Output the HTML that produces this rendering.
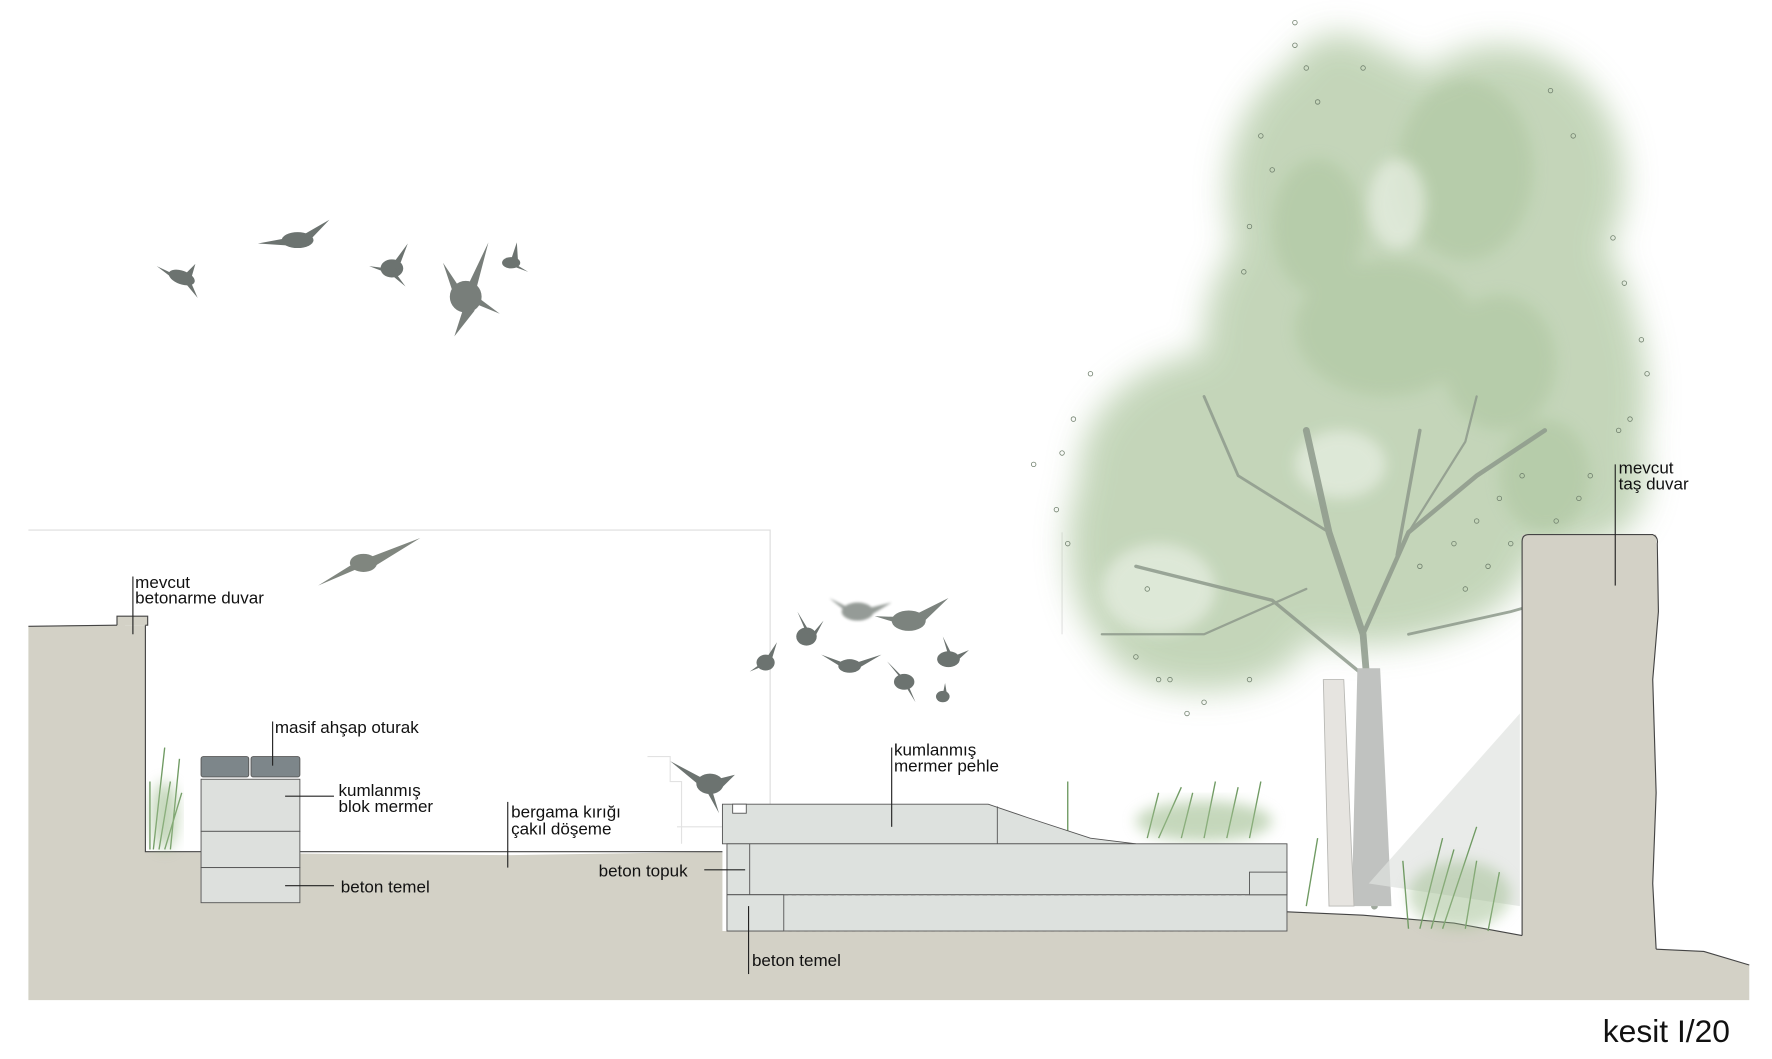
<!DOCTYPE html>
<html><head><meta charset="utf-8"><style>
html,body{margin:0;padding:0;background:#fff;}
svg{display:block;}
text{font-family:"Liberation Sans",sans-serif;fill:#111;}
</style></head><body>
<svg width="1772" height="1059" viewBox="0 0 1560 935" preserveAspectRatio="none" xmlns="http://www.w3.org/2000/svg">
<defs>
<filter id="b6" x="-20%" y="-20%" width="140%" height="140%"><feGaussianBlur stdDeviation="6"/></filter>
<filter id="b14" x="-30%" y="-30%" width="160%" height="160%"><feGaussianBlur stdDeviation="14"/></filter>
<filter id="b2"><feGaussianBlur stdDeviation="1.2"/></filter>
</defs>

<path d="M25 468 H678 V712" fill="none" stroke="#ddd" stroke-width="1"/>
<path d="M935 470 V560" fill="none" stroke="#e2e2e2" stroke-width="1"/>
<path d="M570 668 H590 V690 H600 V745 M596 730 H636" fill="none" stroke="#e2e2e2"/>

<!-- tree canopy -->
<g opacity="0.88">
<g filter="url(#b14)" fill="#bcd0b0">
<ellipse cx="1190" cy="170" rx="110" ry="130"/>
<ellipse cx="1320" cy="160" rx="110" ry="120"/>
<ellipse cx="1250" cy="300" rx="190" ry="160"/>
<ellipse cx="1080" cy="420" rx="130" ry="110"/>
<ellipse cx="1000" cy="480" rx="60" ry="100"/>
<ellipse cx="1370" cy="350" rx="80" ry="140"/>
<ellipse cx="1200" cy="480" rx="150" ry="90"/>
<ellipse cx="1060" cy="560" rx="90" ry="50"/>
<ellipse cx="1180" cy="80" rx="50" ry="50"/>
<ellipse cx="1400" cy="420" rx="50" ry="60"/>
</g>
<g filter="url(#b6)" fill="#a8c299" opacity="0.7">
<ellipse cx="1290" cy="150" rx="60" ry="80"/>
<ellipse cx="1220" cy="290" rx="80" ry="60"/>
<ellipse cx="1320" cy="320" rx="50" ry="60"/>
<ellipse cx="1160" cy="200" rx="40" ry="60"/>
<ellipse cx="1360" cy="420" rx="40" ry="50"/>
</g>
<g filter="url(#b6)" fill="#e6eee1" opacity="0.7">
<ellipse cx="1180" cy="410" rx="40" ry="30"/>
<ellipse cx="1230" cy="180" rx="25" ry="40"/>
<ellipse cx="1020" cy="520" rx="50" ry="40"/>
</g>
</g>
<g fill="none" stroke="#6f7f6c" stroke-width="0.7">
<circle cx="1140" cy="40" r="2"/><circle cx="1150" cy="60" r="2"/><circle cx="1110" cy="120" r="2"/><circle cx="1120" cy="150" r="2"/><circle cx="1100" cy="200" r="2"/><circle cx="1095" cy="240" r="2"/><circle cx="1420" cy="210" r="2"/><circle cx="1430" cy="250" r="2"/><circle cx="1445" cy="300" r="2"/><circle cx="1450" cy="330" r="2"/><circle cx="1435" cy="370" r="2"/><circle cx="1425" cy="380" r="2"/><circle cx="1400" cy="420" r="2"/><circle cx="1390" cy="440" r="2"/><circle cx="960" cy="330" r="2"/><circle cx="945" cy="370" r="2"/><circle cx="935" cy="400" r="2"/><circle cx="910" cy="410" r="2"/><circle cx="930" cy="450" r="2"/><circle cx="940" cy="480" r="2"/><circle cx="1000" cy="580" r="2"/><circle cx="1030" cy="600" r="2"/><circle cx="1060" cy="620" r="2"/><circle cx="1100" cy="600" r="2"/><circle cx="1300" cy="460" r="2"/><circle cx="1320" cy="440" r="2"/><circle cx="1340" cy="420" r="2"/><circle cx="1160" cy="90" r="2"/><circle cx="1200" cy="60" r="2"/><circle cx="1250" cy="500" r="2"/><circle cx="1280" cy="480" r="2"/><circle cx="1010" cy="520" r="2"/><circle cx="1140" cy="20" r="2"/><circle cx="1365" cy="80" r="2"/><circle cx="1385" cy="120" r="2"/>
<circle cx="1310" cy="500" r="2"/><circle cx="1330" cy="480" r="2"/><circle cx="1290" cy="520" r="2"/><circle cx="1370" cy="460" r="2"/><circle cx="1020" cy="600" r="2"/><circle cx="1045" cy="630" r="2"/>
</g>

<g stroke="#8e9a8c" stroke-linecap="round" fill="none" opacity="0.85">
<path d="M1210 800 L1205 620 L1200 560 L1170 470 L1150 380" stroke-width="6"/>
<path d="M1200 560 L1240 470 L1300 420 L1360 380" stroke-width="4"/>
<path d="M1205 600 L1120 530 L1000 500" stroke-width="3"/>
<path d="M1230 490 L1250 380" stroke-width="3"/>
<path d="M1170 470 L1090 420 L1060 350" stroke-width="2.5"/>
<path d="M1240 560 L1330 540 L1400 520" stroke-width="2.5"/>
<path d="M1150 520 L1060 560 L970 560" stroke-width="2"/>
<path d="M1240 470 L1290 390 L1300 350" stroke-width="2"/>
</g>
<path d="M1195 590 L1215 590 L1225 800 L1190 800 Z" fill="#c0c2c0"/>
<path d="M1165 600 L1183 600 L1192 800 L1170 800 Z" fill="#e6e4e0" stroke="#b9b9b5" stroke-width="0.8"/>
<path d="M1338 630 L1205 780 L1338 800 Z" fill="#dfe3df" opacity="0.7"/>

<path d="M25 553 L60 552 L103 552 L103 544 L110 544 L110 552 L128 552 L128 752 L300 754 L450 755 L636 752 L636 822 L1133 822 L1133 805 L1200 808 L1280 815 L1340 826 L1340 472 L1458 472 L1460 540 L1455 600 L1458 700 L1455 780 L1458 838 L1500 840 L1540 852 L1540 883 L25 883 Z" fill="#d3d1c6"/>
<path d="M25 553 L103 552 M128 552 V752 L636 752 M1133 805 L1200 808 L1280 815 L1340 826 M1458 838 L1500 840 L1540 852" fill="none" stroke="#444" stroke-width="1"/>
<path d="M103 552 V544 H130 V552 H128" fill="#d3d1c6" stroke="#444" stroke-width="1"/>
<path d="M1340 826 V478 Q1340 472 1346 472 L1455 472 Q1460 474 1459 480 L1460 540 L1455 600 L1458 700 L1455 780 L1458 838" fill="none" stroke="#444" stroke-width="1"/>

<g stroke="#6f9a62" stroke-width="1.2" fill="none">
<path d="M135 750 L145 660 M140 750 L150 690 M145 750 L160 700 M132 750 L132 690 M150 750 L158 670"/>
<path d="M1150 800 L1160 740 M1250 820 L1270 740 M1260 820 L1280 750 M1270 820 L1300 730 M1290 820 L1300 760 M1310 822 L1320 770 M1240 820 L1235 760"/>
<path d="M1010 740 L1020 700 M1020 740 L1040 695 M1040 740 L1050 700 M1060 740 L1070 690 M1080 740 L1090 695 M1100 740 L1110 690 M940 740 L940 690"/>
</g>
<ellipse cx="1060" cy="725" rx="60" ry="18" fill="#9fbd8f" opacity="0.6" filter="url(#b6)"/>
<ellipse cx="1285" cy="790" rx="45" ry="30" fill="#9fbd8f" opacity="0.5" filter="url(#b6)"/>
<ellipse cx="145" cy="720" rx="12" ry="30" fill="#9fbd8f" opacity="0.6" filter="url(#b6)"/>

<g stroke="#555" stroke-width="0.8">
<rect x="177" y="668" width="42" height="18" rx="2" fill="#7d868a"/>
<rect x="221" y="668" width="43" height="18" rx="2" fill="#7d868a"/>
<rect x="177" y="688" width="87" height="46" fill="#dde0dd"/>
<rect x="177" y="734" width="87" height="32" fill="#dde0dd"/>
<rect x="177" y="766" width="87" height="31" fill="#dde0dd"/>
</g>

<g stroke="#555" stroke-width="0.8" fill="#dde1de">
<path d="M636 710 H870 L905 722 L960 740 L1000 745 H636 Z"/>
<rect x="640" y="745" width="493" height="45"/>
<rect x="640" y="790" width="493" height="32"/>
<rect x="640" y="790" width="50" height="32"/>
<rect x="1100" y="770" width="33" height="20"/>
<line x1="660" y1="745" x2="660" y2="790"/>
<line x1="878" y1="712" x2="878" y2="745"/>
<rect x="645" y="710" width="12" height="8" fill="#fff"/>
</g>
<line x1="690" y1="790" x2="1100" y2="790" stroke="#666" stroke-dasharray="4 3" stroke-width="0.8"/>
<line x1="690" y1="822" x2="1100" y2="822" stroke="#666" stroke-dasharray="4 3" stroke-width="0.8"/>

<g fill="#6c7370">
<g transform="translate(160,245)"><ellipse rx="12" ry="6" transform="rotate(20)"/><path d="M-5 -2 L-22 -10 L-5 3Z M3 -3 L12 -12 L8 2Z"/><path d="M8 4 L14 18 L4 6Z"/></g>
<g transform="translate(262,212)"><ellipse rx="14" ry="7"/><path d="M-3 -3 L-35 3 L-5 5Z M2 -3 L28 -18 L8 3Z"/></g>
<g transform="translate(345,237)"><ellipse rx="10" ry="8"/><path d="M0 -3 L14 -22 L5 2Z M-4 0 L-20 -2 L-4 4Z M4 5 L12 16 L0 6Z"/></g>
<g transform="translate(410,262)" fill="#787e7a"><ellipse rx="14" ry="14"/><path d="M0 -6 L20 -48 L8 -2Z M-4 -6 L-20 -30 L-10 0Z M-2 10 L-10 35 L8 12Z M8 6 L30 15 L10 0Z"/></g>
<g transform="translate(450,232)"><ellipse rx="8" ry="5"/><path d="M0 -3 L5 -18 L6 -2Z M5 2 L15 8 L4 4Z"/></g>
<g transform="translate(320,497)" fill="#80867f"><ellipse rx="12" ry="8"/><path d="M-3 -3 L-40 20 L-5 5Z M3 -4 L50 -22 L8 4Z"/></g>
<g transform="translate(755,540)" fill="#8a918c" opacity="0.9" filter="url(#b2)"><ellipse rx="14" ry="8"/><path d="M-5 -2 L-25 -12 L-5 4Z M5 -2 L30 -8 L10 4Z"/></g>
<g transform="translate(800,548)" fill="#7c837e"><ellipse rx="15" ry="9"/><path d="M-3 -3 L-30 -4 L-4 4Z M3 -4 L35 -20 L10 4Z"/></g>
<g transform="translate(710,562)"><ellipse rx="9" ry="8"/><path d="M0 -3 L-8 -22 L4 -2Z M3 0 L15 -14 L6 3Z"/></g>
<g transform="translate(674,585)"><ellipse rx="8" ry="7"/><path d="M0 -3 L10 -18 L4 2Z M-3 0 L-14 8 L-2 3Z"/></g>
<g transform="translate(748,588)"><ellipse rx="10" ry="6"/><path d="M-3 -2 L-25 -10 L-4 3Z M3 -2 L28 -10 L6 3Z"/></g>
<g transform="translate(835,582)"><ellipse rx="10" ry="7"/><path d="M0 -3 L-5 -20 L4 -2Z M3 -2 L18 -8 L6 3Z"/></g>
<g transform="translate(796,602)"><ellipse rx="9" ry="7"/><path d="M-2 -2 L-15 -18 L1 -2Z M4 4 L10 18 L2 5Z"/></g>
<g transform="translate(830,615)"><ellipse rx="6" ry="5"/><path d="M0 -2 L2 -12 L4 0Z"/></g>
<g transform="translate(625,692)"><ellipse rx="12" ry="9"/><path d="M-3 -3 L-35 -20 L-5 5Z M6 -4 L22 -8 L10 4Z M2 6 L8 26 L-2 8Z"/></g>
</g>

<g stroke="#222" stroke-width="1" fill="none">
<path d="M117 509 V560"/>
<path d="M240 637 V676"/>
<path d="M251 703 H294"/>
<path d="M251 782 H294"/>
<path d="M447 708 V766"/>
<path d="M620 768 H656"/>
<path d="M659 800 V860"/>
<path d="M785 660 V730"/>
<path d="M1422 410 V517"/>
</g>

<g font-size="15">
<text x="119" y="519">mevcut</text>
<text x="119" y="533">betonarme duvar</text>
<text x="242" y="647">masif ahşap oturak</text>
<text x="298" y="703">kumlanmış</text>
<text x="298" y="717">blok mermer</text>
<text x="300" y="788">beton temel</text>
<text x="450" y="722">bergama kırığı</text>
<text x="450" y="737">çakıl döşeme</text>
<text x="527" y="774">beton topuk</text>
<text x="662" y="853">beton temel</text>
<text x="787" y="667">kumlanmış</text>
<text x="787" y="681">mermer pehle</text>
<text x="1425" y="418">mevcut</text>
<text x="1425" y="432">taş duvar</text>
<text x="1411" y="920" font-size="28">kesit I/20</text>
</g>
</svg>
</body></html>
